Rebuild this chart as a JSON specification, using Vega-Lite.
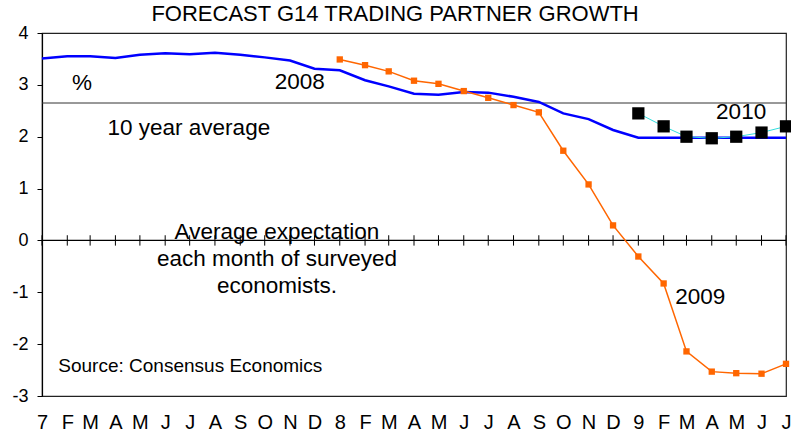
{
  "$schema": "https://vega.github.io/schema/vega-lite/v6.json",
  "width": 744,
  "height": 363,
  "autosize": "none",
  "padding": {"left": 42, "top": 33, "right": 5, "bottom": 40},
  "background": "white",
  "config": {
    "font": "Liberation Sans",
    "view": {"stroke": "#222", "strokeWidth": 1.2},
    "axis": {"grid": false, "labelColor": "black", "domainColor": "black", "tickColor": "black"}
  },
  "title": {
    "text": "FORECAST G14 TRADING PARTNER GROWTH",
    "fontSize": 22,
    "fontWeight": "normal",
    "color": "black",
    "anchor": "middle",
    "frame": "bounds",
    "baseline": "alphabetic",
    "offset": 1,
    "dy": 20,
    "dx": -7
  },
  "datasets": {
    "forecasts": [
      {"month": "2007-01-01", "forecast": "2008", "growth": 3.51},
      {"month": "2007-02-01", "forecast": "2008", "growth": 3.55},
      {"month": "2007-03-01", "forecast": "2008", "growth": 3.55},
      {"month": "2007-04-01", "forecast": "2008", "growth": 3.52},
      {"month": "2007-05-01", "forecast": "2008", "growth": 3.58},
      {"month": "2007-06-01", "forecast": "2008", "growth": 3.61},
      {"month": "2007-07-01", "forecast": "2008", "growth": 3.59},
      {"month": "2007-08-01", "forecast": "2008", "growth": 3.62},
      {"month": "2007-09-01", "forecast": "2008", "growth": 3.58},
      {"month": "2007-10-01", "forecast": "2008", "growth": 3.53},
      {"month": "2007-11-01", "forecast": "2008", "growth": 3.47},
      {"month": "2007-12-01", "forecast": "2008", "growth": 3.31},
      {"month": "2008-01-01", "forecast": "2008", "growth": 3.28},
      {"month": "2008-02-01", "forecast": "2008", "growth": 3.09},
      {"month": "2008-03-01", "forecast": "2008", "growth": 2.97},
      {"month": "2008-04-01", "forecast": "2008", "growth": 2.83},
      {"month": "2008-05-01", "forecast": "2008", "growth": 2.81},
      {"month": "2008-06-01", "forecast": "2008", "growth": 2.86},
      {"month": "2008-07-01", "forecast": "2008", "growth": 2.85},
      {"month": "2008-08-01", "forecast": "2008", "growth": 2.77},
      {"month": "2008-09-01", "forecast": "2008", "growth": 2.67},
      {"month": "2008-10-01", "forecast": "2008", "growth": 2.45},
      {"month": "2008-11-01", "forecast": "2008", "growth": 2.34},
      {"month": "2008-12-01", "forecast": "2008", "growth": 2.13},
      {"month": "2009-01-01", "forecast": "2008", "growth": 1.98},
      {"month": "2009-02-01", "forecast": "2008", "growth": 1.98},
      {"month": "2009-03-01", "forecast": "2008", "growth": 1.98},
      {"month": "2009-04-01", "forecast": "2008", "growth": 1.98},
      {"month": "2009-05-01", "forecast": "2008", "growth": 1.98},
      {"month": "2009-06-01", "forecast": "2008", "growth": 1.98},
      {"month": "2009-07-01", "forecast": "2008", "growth": 1.98},
      {"month": "2008-01-01", "forecast": "2009", "growth": 3.49},
      {"month": "2008-02-01", "forecast": "2009", "growth": 3.38},
      {"month": "2008-03-01", "forecast": "2009", "growth": 3.26},
      {"month": "2008-04-01", "forecast": "2009", "growth": 3.08},
      {"month": "2008-05-01", "forecast": "2009", "growth": 3.02},
      {"month": "2008-06-01", "forecast": "2009", "growth": 2.88},
      {"month": "2008-07-01", "forecast": "2009", "growth": 2.75},
      {"month": "2008-08-01", "forecast": "2009", "growth": 2.61},
      {"month": "2008-09-01", "forecast": "2009", "growth": 2.47},
      {"month": "2008-10-01", "forecast": "2009", "growth": 1.73},
      {"month": "2008-11-01", "forecast": "2009", "growth": 1.08},
      {"month": "2008-12-01", "forecast": "2009", "growth": 0.29},
      {"month": "2009-01-01", "forecast": "2009", "growth": -0.31},
      {"month": "2009-02-01", "forecast": "2009", "growth": -0.83},
      {"month": "2009-03-01", "forecast": "2009", "growth": -2.14},
      {"month": "2009-04-01", "forecast": "2009", "growth": -2.53},
      {"month": "2009-05-01", "forecast": "2009", "growth": -2.56},
      {"month": "2009-06-01", "forecast": "2009", "growth": -2.57},
      {"month": "2009-07-01", "forecast": "2009", "growth": -2.38},
      {"month": "2009-01-01", "forecast": "2010", "growth": 2.45},
      {"month": "2009-02-01", "forecast": "2010", "growth": 2.2},
      {"month": "2009-03-01", "forecast": "2010", "growth": 2.0},
      {"month": "2009-04-01", "forecast": "2010", "growth": 1.97},
      {"month": "2009-05-01", "forecast": "2010", "growth": 2.0},
      {"month": "2009-06-01", "forecast": "2010", "growth": 2.08},
      {"month": "2009-07-01", "forecast": "2010", "growth": 2.2}
    ],
    "notes": [
      {"month": "2007-02-19", "growth": 3.03, "label": "%"},
      {"month": "2007-11-13", "growth": 3.06, "label": "2008"},
      {"month": "2007-06-30", "growth": 2.16, "label": "10 year average"},
      {"month": "2009-05-07", "growth": 2.47, "label": "2010"},
      {"month": "2009-03-18", "growth": -1.1, "label": "2009"},
      {"month": "2007-10-16", "growth": 0.17, "label": "Average expectation"},
      {"month": "2007-10-16", "growth": -0.35, "label": "each month of surveyed"},
      {"month": "2007-10-16", "growth": -0.87, "label": "economists."}
    ],
    "source": [
      {"month": "2007-01-21", "growth": -2.43, "label": "Source: Consensus Economics"}
    ],
    "average": [{"growth": 2.65}]
  },
  "encoding": {
    "x": {
      "field": "month",
      "type": "temporal",
      "scale": {"type": "utc", "domain": [{"year": 2007, "month": 1, "date": 1, "utc": true}, {"year": 2009, "month": 7, "date": 1, "utc": true}], "nice": false},
      "axis": {
        "title": null,
        "domain": false,
        "ticks": false,
        "tickCount": {"interval": "month", "step": 1},
        "labelExpr": "utcmonth(datum.value) == 0 ? substring(utcFormat(datum.value, '%Y'), 3, 4) : substring('JFMAMJJASOND', utcmonth(datum.value), utcmonth(datum.value) + 1)",
        "labelFont": "Liberation Sans Narrow, Liberation Sans",
        "labelFontSize": 20,
        "labelPadding": 16,
        "labelBaseline": "top",
        "labelFlush": false,
        "labelOverlap": false,
        "labelAlign": "center"
      }
    },
    "y": {
      "field": "growth",
      "type": "quantitative",
      "scale": {"domain": [-3, 4], "nice": false, "zero": false},
      "axis": {
        "title": null,
        "values": [-3, -2, -1, 0, 1, 2, 3, 4],
        "labelExpr": "'' + datum.value",
        "tickSize": 5,
        "labelFontSize": 18,
        "labelPadding": 9,
        "domainWidth": 1.2
      }
    }
  },
  "layer": [
    {
      "data": {"name": "average"},
      "mark": {"type": "rule", "color": "#333", "strokeWidth": 1},
      "encoding": {"x": null}
    },
    {
      "data": {"name": "average"},
      "mark": {"type": "rule", "color": "black", "strokeWidth": 1.2},
      "encoding": {"x": null, "y": {"datum": 0}}
    },
    {
      "data": {"name": "forecasts"},
      "transform": [{"filter": "datum.forecast == '2008'"}],
      "mark": {"type": "rule", "color": "black", "strokeWidth": 1},
      "encoding": {"y": {"datum": -0.1}, "y2": {"datum": 0.1}}
    },
    {
      "data": {"name": "forecasts"},
      "transform": [{"filter": "datum.forecast == '2008'"}],
      "mark": {"type": "line", "color": "#0000FF", "strokeWidth": 2.5}
    },
    {
      "data": {"name": "forecasts"},
      "transform": [{"filter": "datum.forecast == '2009'"}],
      "mark": {"type": "line", "color": "#FF6600", "strokeWidth": 1.5, "point": {"shape": "square", "size": 40, "filled": true, "color": "#FF6600"}}
    },
    {
      "data": {"name": "forecasts"},
      "transform": [{"filter": "datum.forecast == '2010'"}],
      "mark": {"type": "line", "color": "#33DDDD", "strokeWidth": 1, "point": {"shape": "square", "size": 150, "filled": true, "color": "black"}}
    },
    {
      "data": {"name": "notes"},
      "mark": {"type": "text", "fontSize": 22.5, "color": "black", "baseline": "middle", "align": "center"},
      "encoding": {"text": {"field": "label"}}
    },
    {
      "data": {"name": "source"},
      "mark": {"type": "text", "fontSize": 19, "color": "black", "baseline": "middle", "align": "left"},
      "encoding": {"text": {"field": "label"}}
    }
  ]
}
